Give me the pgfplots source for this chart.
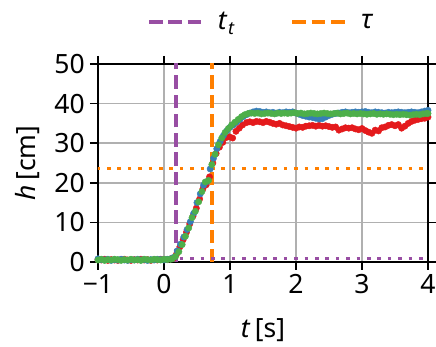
\documentclass[border=0pt]{standalone}
\usepackage{fontspec}
\setmainfont{Noto Sans}
\usepackage{pgfplots}
\pgfplotsset{compat=1.18}
\definecolor{cBlue}{HTML}{377EB8}
\definecolor{cRed}{HTML}{E41A1C}
\definecolor{cGreen}{HTML}{4DAF4A}
\definecolor{cPurple}{HTML}{984EA3}
\definecolor{cOrange}{HTML}{FF7F00}
\definecolor{cGrid}{HTML}{B0B0B0}
\newcommand{\fs}{\fontsize{26.5}{30}\selectfont}
\begin{document}
\begin{tikzpicture}
\begin{axis}[
 name=ax,
 scale only axis, width=330pt, height=198pt,
 xmin=-1, xmax=4, ymin=0, ymax=50,
 xtick={-1,0,1,2,3,4}, xticklabels={−1,0,1,2,3,4},
 ytick={0,10,20,30,40,50},
 /pgf/number format/assume math mode=true,
 tick label style={font=\fs},
 label style={font=\fs},
 xticklabel style={inner sep=4pt},
 yticklabel style={inner sep=5pt},
 tick align=outside, major tick length=8pt,
 tick style={black, line width=1.6pt},
 axis line style={black, line width=1.6pt},
 grid=major, major grid style={color=cGrid, line width=1.6pt},
 xlabel={\textit{t}\,[s]}, ylabel={\textit{h}\,[cm]},
 xlabel style={at={(axis description cs:0.5,-0.343)}, anchor=center},
 ylabel style={at={(axis description cs:-0.215,0.5)}, anchor=center},
 legend columns=2,
 legend style={draw=none, fill=none, at={(axis description cs:0.495,1.212)}, anchor=center, font=\fs},
 legend image code/.code={\draw[#1] (0pt,0pt) -- (54pt,0pt);},
 clip=true,
]
\addplot[cPurple, line width=3.6pt, dash pattern=on 13.5pt off 5.8pt] coordinates {(0.18,-5) (0.18,55)};
\addlegendentry{\hspace*{11pt}\textit{t}\kern0.5pt\raisebox{-5pt}{\fontsize{18}{18}\selectfont\textit{t}}\hspace*{54pt}}
\addplot[cOrange, line width=3.6pt, dash pattern=on 13.5pt off 5.8pt] coordinates {(0.73,-5) (0.73,55)};
\addlegendentry{\hspace*{11pt}\textit{τ}}
\addplot[cOrange, line width=3.6pt, dash pattern=on 3.6pt off 6.8pt, forget plot] coordinates {(-1.02,23.6) (4.05,23.6)};
\addplot[cPurple, line width=3.6pt, dash pattern=on 3.6pt off 6.8pt, forget plot] coordinates {(-1.02,0.9) (4.05,0.9)};
% red
\addplot[only marks, mark=*, mark size=3.2pt, cRed, forget plot] table {
-1.00 0.6
-0.95 0.5
-0.90 0.7
-0.85 0.4
-0.80 0.6
-0.75 0.5
-0.70 0.4
-0.65 0.6
-0.60 0.7
-0.55 0.5
-0.50 0.4
-0.45 0.6
-0.40 0.5
-0.35 0.7
-0.30 0.5
-0.25 0.6
-0.20 0.4
-0.15 0.6
-0.10 0.5
-0.05 0.7
0.00 0.6
0.05 0.6
0.10 0.8
0.14 0.9
0.19 2.0
0.24 3.8
0.29 5.6
0.34 7.5
0.39 9.6
0.44 11.6
0.49 13.6
0.54 15.9
0.59 18.5
0.64 19.5
0.69 21.5
0.74 25.0
0.79 27.4
0.84 29.0
0.89 30.2
0.94 31.4
0.99 31.6
1.04 31.3
1.09 33.0
1.14 33.8
1.19 34.6
1.25 35.2
1.30 35.4
1.35 35.2
1.40 35.5
1.45 35.4
1.50 35.2
1.55 35.5
1.60 35.3
1.65 35.0
1.70 34.8
1.75 35.0
1.80 34.6
1.85 34.4
1.90 34.2
1.95 34.0
2.00 33.8
2.05 34.1
2.10 34.0
2.15 34.3
2.20 34.4
2.25 34.5
2.30 34.3
2.35 34.5
2.40 34.3
2.45 34.4
2.50 34.2
2.55 34.0
2.60 34.1
2.65 33.3
2.70 33.6
2.75 33.9
2.80 33.8
2.85 33.9
2.90 33.6
2.95 33.4
3.00 33.7
3.05 33.2
3.10 32.8
3.15 32.5
3.20 33.3
3.25 33.1
3.30 33.9
3.35 34.1
3.40 34.5
3.45 34.7
3.50 34.4
3.55 34.7
3.60 33.8
3.65 34.3
3.70 35.0
3.75 35.5
3.80 35.8
3.85 36.0
3.90 36.2
3.95 36.3
4.00 36.6
};
% blue
\addplot[only marks, mark=*, mark size=3.2pt, cBlue, forget plot] table {
-1.00 0.8
-0.95 0.6
-0.90 0.5
-0.85 0.7
-0.80 0.4
-0.75 0.6
-0.70 0.5
-0.65 0.7
-0.60 0.5
-0.55 0.4
-0.50 0.6
-0.45 0.5
-0.40 0.7
-0.35 0.5
-0.30 0.6
-0.25 0.4
-0.20 0.6
-0.15 0.5
-0.10 0.7
-0.05 0.6
0.00 0.5
0.05 0.7
0.10 0.8
0.15 1.2
0.20 2.8
0.25 4.5
0.30 6.3
0.35 8.2
0.40 10.2
0.45 12.3
0.50 15.0
0.55 17.2
0.60 19.4
0.65 20.3
0.70 23.5
0.75 26.2
0.80 28.6
0.85 30.4
0.90 31.9
0.95 33.1
1.00 34.0
1.05 34.6
1.10 35.3
1.15 36.0
1.20 36.7
1.25 37.2
1.30 37.6
1.35 37.9
1.40 38.1
1.45 38.0
1.50 37.8
1.55 37.9
1.60 37.7
1.65 37.8
1.70 37.6
1.75 37.8
1.80 37.7
1.85 37.9
1.90 37.8
1.95 37.9
2.00 37.6
2.05 37.3
2.10 37.0
2.15 36.8
2.20 36.6
2.25 36.5
2.30 36.3
2.35 36.1
2.40 36.2
2.45 36.6
2.50 37.0
2.55 37.3
2.60 37.5
2.65 37.6
2.70 37.8
2.75 37.9
2.80 37.7
2.85 37.8
2.90 37.9
2.95 37.8
3.00 37.9
3.05 38.0
3.10 37.8
3.15 37.7
3.20 37.9
3.25 37.8
3.30 37.7
3.35 37.6
3.40 37.8
3.45 37.7
3.50 37.8
3.55 37.9
3.60 37.8
3.65 37.7
3.70 37.8
3.75 37.9
3.80 37.8
3.85 37.7
3.90 37.9
3.95 38.1
4.00 38.3
};
% green
\addplot[only marks, mark=*, mark size=3.2pt, cGreen, forget plot] table {
-1.00 0.5
-0.95 0.7
-0.90 0.4
-0.85 0.6
-0.80 0.5
-0.75 0.7
-0.70 0.6
-0.65 0.4
-0.60 0.6
-0.55 0.5
-0.50 0.7
-0.45 0.5
-0.40 0.6
-0.35 0.4
-0.30 0.7
-0.25 0.6
-0.20 0.5
-0.15 0.7
-0.10 0.6
-0.05 0.5
0.00 0.7
0.05 0.6
0.10 0.7
0.125 0.8
0.175 1.4
0.225 2.6
0.275 4.4
0.325 6.5
0.375 8.6
0.425 11.2
0.475 12.8
0.525 15.2
0.575 17.8
0.625 20.2
0.675 20.6
0.725 24.6
0.775 27.2
0.825 29.6
0.875 31.3
0.925 32.7
0.975 33.7
1.025 34.6
1.075 35.3
1.125 36.0
1.175 36.7
1.225 37.2
1.275 37.5
1.325 37.6
1.375 37.5
1.425 37.6
1.475 37.4
1.525 37.5
1.575 37.6
1.625 37.5
1.675 37.4
1.725 37.6
1.775 37.5
1.825 37.6
1.875 37.5
1.925 37.6
1.975 37.7
2.025 37.5
2.075 37.6
2.125 37.4
2.175 37.5
2.225 37.6
2.275 37.5
2.325 37.4
2.375 37.5
2.425 37.6
2.475 37.5
2.525 37.4
2.575 37.5
2.625 37.6
2.675 37.4
2.725 37.5
2.775 37.6
2.825 37.4
2.875 37.5
2.925 37.4
2.975 37.5
3.025 37.4
3.075 37.3
3.125 37.4
3.175 37.5
3.225 37.3
3.275 37.4
3.325 37.3
3.375 37.4
3.425 37.3
3.475 37.2
3.525 37.3
3.575 37.2
3.625 37.3
3.675 37.2
3.725 37.1
3.775 37.2
3.825 37.3
3.875 37.2
3.925 37.4
3.975 37.5
4.00 37.5
};
\end{axis}
\pgfresetboundingbox
\path[use as bounding box] ([shift={(-98pt,-85pt)}]ax.south west) rectangle ([shift={(8pt,64pt)}]ax.north east);
\end{tikzpicture}
\end{document}
